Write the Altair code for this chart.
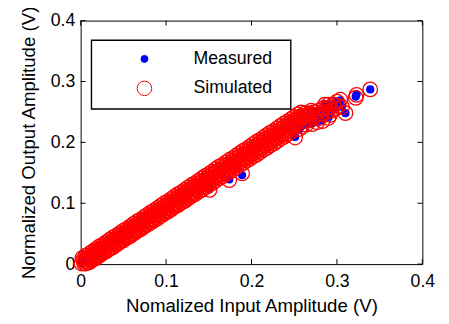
import altair as alt
import pandas as pd

# ---- data (Normalized amplitudes, V) ----
# five overlapping tracks that make up the dense simulated band
xa = [0.002, 0.006, 0.010, 0.014, 0.018, 0.022, 0.026, 0.030, 0.034, 0.038,
      0.042, 0.046, 0.050, 0.054, 0.058, 0.062, 0.066, 0.070, 0.074, 0.078,
      0.082, 0.086, 0.090, 0.094, 0.098, 0.102, 0.106, 0.110, 0.114, 0.118,
      0.122, 0.126, 0.130, 0.134, 0.138, 0.142, 0.146, 0.150, 0.154, 0.158,
      0.162, 0.166, 0.170, 0.174, 0.178, 0.182, 0.186, 0.190, 0.194, 0.198,
      0.202, 0.206, 0.210, 0.214, 0.218, 0.222, 0.226, 0.230, 0.234, 0.238,
      0.242, 0.246, 0.250, 0.254, 0.258]
ya = [0.010, 0.014, 0.017, 0.021, 0.025, 0.029, 0.032, 0.036, 0.040, 0.044,
      0.047, 0.051, 0.055, 0.058, 0.062, 0.066, 0.070, 0.073, 0.077, 0.081,
      0.085, 0.088, 0.092, 0.096, 0.100, 0.103, 0.107, 0.111, 0.115, 0.118,
      0.122, 0.126, 0.130, 0.133, 0.137, 0.141, 0.145, 0.148, 0.152, 0.156,
      0.160, 0.163, 0.167, 0.171, 0.174, 0.178, 0.182, 0.186, 0.189, 0.193,
      0.197, 0.201, 0.204, 0.208, 0.212, 0.216, 0.219, 0.223, 0.227, 0.231,
      0.234, 0.238, 0.242, 0.246, 0.249]

xb = [0.003, 0.007, 0.011, 0.015, 0.019, 0.023, 0.027, 0.031, 0.035, 0.039,
      0.043, 0.047, 0.051, 0.055, 0.059, 0.063, 0.067, 0.071, 0.075, 0.079,
      0.083, 0.087, 0.091, 0.095, 0.099, 0.103, 0.107, 0.111, 0.115, 0.119,
      0.123, 0.127, 0.131, 0.135, 0.139, 0.143, 0.147, 0.151, 0.155, 0.159,
      0.163, 0.167, 0.171, 0.175, 0.179, 0.183, 0.187, 0.191, 0.195, 0.199,
      0.203, 0.207, 0.211, 0.215, 0.219, 0.223, 0.227, 0.231, 0.235, 0.239,
      0.243, 0.247, 0.251, 0.255, 0.259, 0.263]
yb = [0.007, 0.010, 0.014, 0.018, 0.022, 0.025, 0.029, 0.033, 0.036, 0.040,
      0.044, 0.048, 0.051, 0.055, 0.059, 0.062, 0.066, 0.070, 0.074, 0.077,
      0.081, 0.085, 0.088, 0.092, 0.096, 0.100, 0.103, 0.107, 0.111, 0.114,
      0.118, 0.122, 0.126, 0.129, 0.133, 0.137, 0.140, 0.144, 0.148, 0.152,
      0.155, 0.159, 0.163, 0.166, 0.170, 0.174, 0.178, 0.181, 0.185, 0.189,
      0.192, 0.196, 0.200, 0.204, 0.207, 0.211, 0.215, 0.218, 0.222, 0.226,
      0.230, 0.233, 0.237, 0.241, 0.244, 0.248]

xc = [0.001, 0.005, 0.009, 0.013, 0.017, 0.021, 0.025, 0.029, 0.033, 0.037,
      0.041, 0.045, 0.049, 0.053, 0.057, 0.061, 0.065, 0.069, 0.073, 0.077,
      0.081, 0.085, 0.089, 0.093, 0.097, 0.101, 0.105, 0.109, 0.113, 0.117,
      0.121, 0.125, 0.129, 0.133, 0.137, 0.141, 0.145, 0.149, 0.153, 0.157,
      0.161, 0.165, 0.169, 0.173, 0.177, 0.181, 0.185, 0.189, 0.193, 0.197,
      0.201, 0.205, 0.209, 0.213, 0.217, 0.221, 0.225, 0.229, 0.233, 0.237,
      0.241, 0.245, 0.249, 0.253, 0.257, 0.261, 0.265]
yc_sim = [0.001, 0.005, 0.008, 0.012, 0.016, 0.019, 0.023, 0.027, 0.031, 0.034,
          0.038, 0.042, 0.045, 0.049, 0.053, 0.056, 0.060, 0.064, 0.068, 0.071,
          0.075, 0.079, 0.082, 0.086, 0.090, 0.093, 0.097, 0.101, 0.105, 0.108,
          0.112, 0.116, 0.119, 0.123, 0.127, 0.130, 0.134, 0.138, 0.142, 0.145,
          0.149, 0.153, 0.156, 0.160, 0.164, 0.167, 0.171, 0.175, 0.179, 0.182,
          0.186, 0.190, 0.193, 0.197, 0.201, 0.204, 0.208, 0.212, 0.216, 0.219,
          0.223, 0.227, 0.230, 0.234, 0.238, 0.241, 0.245]
yc_meas = [0.002, 0.004, 0.009, 0.012, 0.015, 0.020, 0.023, 0.026, 0.031, 0.035,
           0.037, 0.042, 0.046, 0.048, 0.053, 0.057, 0.059, 0.064, 0.067, 0.072,
           0.075, 0.078, 0.083, 0.086, 0.089, 0.094, 0.097, 0.100, 0.105, 0.109,
           0.111, 0.116, 0.120, 0.122, 0.127, 0.131, 0.133, 0.138, 0.141, 0.146,
           0.148, 0.153, 0.157, 0.159, 0.164, 0.168, 0.170, 0.175, 0.178, 0.183,
           0.185, 0.190, 0.194, 0.196, 0.201, 0.205, 0.207, 0.212, 0.215, 0.220,
           0.222, 0.227, 0.231, 0.233, 0.238, 0.242, 0.244]

xd = [0.004, 0.008, 0.012, 0.016, 0.020, 0.024, 0.028, 0.032, 0.036, 0.040,
      0.044, 0.048, 0.052, 0.056, 0.060, 0.064, 0.068, 0.072, 0.076, 0.080,
      0.084, 0.088, 0.092, 0.096, 0.100, 0.104, 0.108, 0.112, 0.116, 0.120,
      0.124, 0.128, 0.132, 0.136, 0.140, 0.144, 0.148, 0.152, 0.156, 0.160,
      0.164, 0.168, 0.172, 0.176, 0.180, 0.184, 0.188, 0.192, 0.196, 0.200,
      0.204, 0.208, 0.212, 0.216, 0.220, 0.224, 0.228, 0.232, 0.236, 0.240,
      0.244, 0.248, 0.252]
yd = [0.001, 0.003, 0.007, 0.011, 0.014, 0.018, 0.022, 0.025, 0.029, 0.033,
      0.036, 0.040, 0.044, 0.048, 0.051, 0.055, 0.059, 0.062, 0.066, 0.070,
      0.073, 0.077, 0.081, 0.084, 0.088, 0.092, 0.095, 0.099, 0.103, 0.106,
      0.110, 0.114, 0.117, 0.121, 0.125, 0.128, 0.132, 0.136, 0.140, 0.143,
      0.147, 0.151, 0.154, 0.158, 0.162, 0.165, 0.169, 0.173, 0.176, 0.180,
      0.184, 0.187, 0.191, 0.195, 0.198, 0.202, 0.206, 0.209, 0.213, 0.217,
      0.220, 0.224, 0.228]

xe = [0.006, 0.010, 0.014, 0.018, 0.022, 0.026, 0.030, 0.034, 0.038, 0.042,
      0.046, 0.050, 0.054, 0.058, 0.062, 0.066, 0.070, 0.074, 0.078, 0.082,
      0.086, 0.090, 0.094, 0.098, 0.102, 0.106, 0.110, 0.114, 0.118, 0.122,
      0.126, 0.130, 0.134, 0.138, 0.142, 0.146, 0.150, 0.154, 0.158, 0.162,
      0.166, 0.170, 0.174, 0.178, 0.182, 0.186, 0.190, 0.194, 0.198, 0.202,
      0.206, 0.210, 0.214, 0.218, 0.222, 0.226, 0.230, 0.234, 0.238, 0.242,
      0.246]
ye = [0.001, 0.003, 0.007, 0.010, 0.014, 0.018, 0.021, 0.025, 0.028, 0.032,
      0.036, 0.039, 0.043, 0.046, 0.050, 0.054, 0.057, 0.061, 0.065, 0.068,
      0.072, 0.075, 0.079, 0.083, 0.086, 0.090, 0.094, 0.097, 0.101, 0.104,
      0.108, 0.112, 0.115, 0.119, 0.122, 0.126, 0.130, 0.133, 0.137, 0.141,
      0.144, 0.148, 0.151, 0.155, 0.159, 0.162, 0.166, 0.170, 0.173, 0.177,
      0.180, 0.184, 0.188, 0.191, 0.195, 0.198, 0.202, 0.206, 0.209, 0.213,
      0.217]

# scattered points at the upper end and a few low outliers
x_tail = [0.151, 0.174, 0.189, 0.251, 0.256, 0.264, 0.268, 0.268, 0.272, 0.274,
          0.277, 0.280, 0.283, 0.284, 0.286, 0.288, 0.292, 0.292, 0.296, 0.300,
          0.304, 0.306, 0.310, 0.322, 0.323, 0.339,
          0.258, 0.262, 0.266, 0.270, 0.276, 0.279, 0.282, 0.287, 0.290, 0.294,
          0.298, 0.302, 0.259, 0.263, 0.271, 0.290]
y_tail_sim = [0.122, 0.138, 0.149, 0.208, 0.222, 0.229, 0.248, 0.236, 0.241, 0.250,
              0.233, 0.240, 0.235, 0.256, 0.262, 0.250, 0.245, 0.258, 0.262, 0.267,
              0.270, 0.258, 0.248, 0.273, 0.278, 0.287,
              0.240, 0.244, 0.243, 0.252, 0.245, 0.252, 0.247, 0.255, 0.262, 0.252,
              0.255, 0.260, 0.226, 0.235, 0.230, 0.240]
y_tail_meas = [0.123, 0.139, 0.146, 0.209, 0.221, 0.230, 0.247, 0.237, 0.240, 0.251,
               0.234, 0.241, 0.236, 0.255, 0.263, 0.249, 0.246, 0.259, 0.262, 0.267,
               0.269, 0.258, 0.248, 0.275, 0.279, 0.287,
               0.241, 0.243, 0.244, 0.251, 0.246, 0.251, 0.248, 0.256, 0.261, 0.253,
               0.254, 0.261, 0.227, 0.234, 0.231, 0.241]

series_names = ["Measured", "Simulated"]
tick_values = [0, 0.1, 0.2, 0.3, 0.4]

# ---- build table (measured rows first so simulated circles draw on top) ----
rows = []
for xv, yv in zip(xc + x_tail, yc_meas + y_tail_meas):
    rows.append({"x": xv, "y": yv, "series": "Measured"})
for xs, ys in [(xa, ya), (xb, yb), (xc, yc_sim), (xd, yd), (xe, ye), (x_tail, y_tail_sim)]:
    for xv, yv in zip(xs, ys):
        rows.append({"x": xv, "y": yv, "series": "Simulated"})
df = pd.DataFrame(rows)
ticks_df = pd.DataFrame({"t": tick_values})

W, H = 348, 248
FONT = "Liberation Sans"

xscale = alt.Scale(domain=[0, 0.4], nice=False, zero=False)
yscale = alt.Scale(domain=[0, 0.4], nice=False, zero=False)

leg = alt.Legend(title=None, orient="none", legendX=56, legendY=30,
                 labelFontSize=18, labelFont=FONT, labelColor="black",
                 labelOffset=41, rowPadding=11, symbolStrokeWidth=1)

points = alt.Chart(df).mark_point(strokeWidth=1.3, opacity=1).encode(
    x=alt.X("x:Q", scale=xscale,
            axis=alt.Axis(values=tick_values, format="~g", title="Nomalized Input Amplitude (V)",
                          grid=False, domain=False, ticks=False, labelPadding=9,
                          labelFlush=False, titlePadding=6)),
    y=alt.Y("y:Q", scale=yscale,
            axis=alt.Axis(values=tick_values, format="~g", title="Normalized Output Amplitude (V)",
                          grid=False, domain=False, ticks=False, labelPadding=6,
                          labelFlush=False, titlePadding=12)),
    color=alt.Color("series:N", scale=alt.Scale(domain=series_names, range=["#0000ff", "#ff0000"]),
                    legend=leg),
    fill=alt.Fill("series:N", scale=alt.Scale(domain=series_names, range=["#0000ff", "transparent"]),
                  legend=leg),
    size=alt.Size("series:N", scale=alt.Scale(domain=series_names, range=[50, 220]),
                  legend=leg),
)

box_df = pd.DataFrame({"k": [0]})
legend_box = alt.Chart(box_df).mark_rect(fill="white", stroke="black", strokeWidth=1.4).encode(
    x=alt.value(11), x2=alt.value(214), y=alt.value(20), y2=alt.value(90)
)

tick_len = 5
bottom_ticks = alt.Chart(ticks_df).mark_rule(color="black", strokeWidth=1).encode(
    x=alt.X("t:Q", scale=xscale), y=alt.value(H), y2=alt.value(H - tick_len))
top_ticks = alt.Chart(ticks_df).mark_rule(color="black", strokeWidth=1).encode(
    x=alt.X("t:Q", scale=xscale), y=alt.value(0), y2=alt.value(tick_len))
left_ticks = alt.Chart(ticks_df).mark_rule(color="black", strokeWidth=1).encode(
    y=alt.Y("t:Q", scale=yscale), x=alt.value(0), x2=alt.value(tick_len))
right_ticks = alt.Chart(ticks_df).mark_rule(color="black", strokeWidth=1).encode(
    y=alt.Y("t:Q", scale=yscale), x=alt.value(W), x2=alt.value(W - tick_len))

chart = alt.layer(
    bottom_ticks, top_ticks, left_ticks, right_ticks, points, legend_box
).properties(
    width=W, height=H,
    autosize=alt.AutoSizeParams(type="none"),
    padding={"left": 74, "top": 10, "right": 19, "bottom": 50},
    background="white",
).configure_view(
    stroke="black", strokeWidth=1
).configure_axis(
    labelFont=FONT, labelFontSize=18, labelColor="black",
    titleFont=FONT, titleFontSize=19, titleColor="black", titleFontWeight="normal"
)

chart.save("out.html", embed_options={"renderer": "svg", "actions": False})
